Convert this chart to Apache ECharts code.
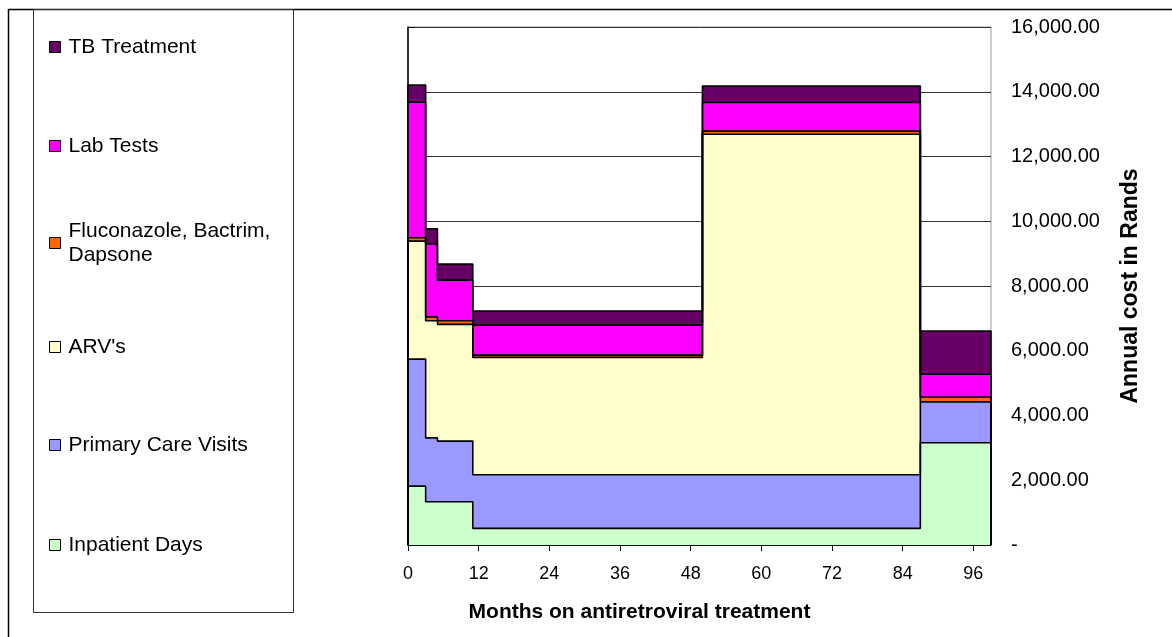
<!DOCTYPE html>
<html>
<head>
<meta charset="utf-8">
<script src="https://cdn.jsdelivr.net/npm/echarts@6/dist/echarts.min.js"></script>
<style>
  html, body { margin: 0; padding: 0; background: #fff; }
  #chart { width: 1172px; height: 637px; }
</style>
</head>
<body>
<div id="chart"></div>
<script>
// Month at which each cost period starts, and the month the last period ends
const periodStarts = [0, 3, 5, 11, 50, 87];
const periodEnd = 99;
const xTicks = [0, 12, 24, 36, 48, 60, 72, 84, 96];

// Annual cost of each component (Rands) in each period
const inpatientDays = [1820, 1335, 1335, 515, 515, 3160];
const primaryCare   = [3920, 1975, 1875, 1655, 1655, 1265];
const arvs          = [3645, 3615, 3605, 3625, 10515, 0];
const prophylaxis   = [105, 120, 110, 70, 100, 145];
const labTests      = [4185, 2250, 1255, 925, 885, 705];
const tbTreatment   = [535, 470, 495, 440, 505, 1335];

const FONT = '"Liberation Sans", Arial, sans-serif';

// Stack, bottom layer first
const layers = [
  { name: 'Inpatient Days', values: inpatientDays, color: '#CCFFCC' },
  { name: 'Primary Care Visits', values: primaryCare, color: '#9999FF' },
  { name: "ARV's", values: arvs, color: '#FFFFCC' },
  { name: 'Fluconazole, Bactrim, Dapsone', values: prophylaxis, color: '#FF6600' },
  { name: 'Lab Tests', values: labTests, color: '#FF00FF' },
  { name: 'TB Treatment', values: tbTreatment, color: '#660066' }
];

// Cumulative totals give the upper edge of each band
let running = periodStarts.map(() => 0);
layers.forEach(l => {
  running = running.map((r, i) => r + l.values[i]);
  l.top = running.slice();
});

function stepPoints(top) {
  const pts = [[periodStarts[0], 0]];
  periodStarts.forEach((m, i) => pts.push([m, top[i]]));
  pts.push([periodEnd, top[top.length - 1]]);
  pts.push([periodEnd, 0]);
  return pts;
}

// Upper bands are painted first; each lower band covers the part beneath it
const series = layers.slice().reverse().map(l => ({
  name: l.name,
  type: 'line',
  step: 'end',
  symbol: 'none',
  showSymbol: false,
  silent: true,
  data: stepPoints(l.top),
  itemStyle: { color: l.color },
  lineStyle: { color: '#000', width: 1.6 },
  areaStyle: { color: l.color, opacity: 1 },
  emphasis: { disabled: true }
}));

// Legend entries, top to bottom, with the vertical centre of each row
const legendRows = [
  { name: 'TB Treatment', y: 47 },
  { name: 'Lab Tests', y: 146 },
  { name: 'Fluconazole, Bactrim, Dapsone', y: 243, wrap: true },
  { name: "ARV's", y: 347 },
  { name: 'Primary Care Visits', y: 445 },
  { name: 'Inpatient Days', y: 545 }
];
const LEGEND_LINE = 24;
const legends = legendRows.map(r => {
  const layer = layers.find(l => l.name === r.name);
  return {
    show: true,
    orient: 'vertical',
    left: 49,
    top: r.wrap ? r.y - LEGEND_LINE * 1.5 : r.y - LEGEND_LINE / 2,
    padding: 0,
    itemGap: 0,
    itemWidth: 11,
    itemHeight: 11,
    icon: 'rect',
    selectedMode: false,
    data: [r.name],
    formatter: r.wrap ? (n => n.replace(', Dapsone', ',\nDapsone')) : undefined,
    itemStyle: { color: layer.color, borderColor: '#000', borderWidth: 1 },
    textStyle: {
      fontFamily: FONT, fontSize: 21, color: '#000',
      lineHeight: LEGEND_LINE,
      padding: r.wrap ? [LEGEND_LINE, 0, 0, 3] : [0, 0, 0, 3]
    }
  };
});

const chart = echarts.init(document.getElementById('chart'), null, { renderer: 'canvas' });
chart.setOption({
  animation: false,
  backgroundColor: '#fff',
  textStyle: { fontFamily: FONT },
  grid: {
    left: 408, right: 181, top: 27, bottom: 92,
    show: true, borderColor: '#999', borderWidth: 1, backgroundColor: 'transparent'
  },
  legend: legends,
  xAxis: {
    type: 'value',
    min: 0,
    max: periodEnd,
    interval: 12,
    axisLine: { lineStyle: { color: '#000', width: 1.5 } },
    axisTick: { show: true, length: 6, customValues: xTicks, lineStyle: { color: '#000' } },
    axisLabel: { customValues: xTicks, margin: 20, fontSize: 18, color: '#000', fontFamily: FONT },
    splitLine: { show: false },
    name: 'Months on antiretroviral treatment',
    nameLocation: 'middle',
    nameGap: 57,
    nameTextStyle: { fontSize: 21, fontWeight: 'bold', color: '#000', fontFamily: FONT, padding: [0, 120, 0, 0] }
  },
  yAxis: {
    type: 'value',
    position: 'right',
    min: 0,
    max: 16000,
    interval: 2000,
    axisLine: { show: true, lineStyle: { color: '#000', width: 1.5 } },
    axisTick: { show: true, length: 7, lineStyle: { color: '#000' } },
    axisLabel: {
      margin: 20, fontSize: 20, color: '#000', fontFamily: FONT,
      formatter: v => v === 0 ? '-' : v.toLocaleString('en-US', { minimumFractionDigits: 2, maximumFractionDigits: 2 })
    },
    splitLine: { show: true, lineStyle: { color: '#333', width: 1 } },
    name: 'Annual cost in Rands',
    nameLocation: 'middle',
    nameRotate: 90,
    nameGap: 128,
    nameTextStyle: { fontSize: 23, fontWeight: 'bold', color: '#000', fontFamily: FONT }
  },
  graphic: [
    { type: 'line', shape: { x1: 8, y1: 9.5, x2: 1172, y2: 9.5 }, style: { stroke: '#000', lineWidth: 1.5 } },
    { type: 'line', shape: { x1: 8.5, y1: 9, x2: 8.5, y2: 637 }, style: { stroke: '#000', lineWidth: 1.5 } },
    { type: 'rect', shape: { x: 33.5, y: 9.5, width: 260, height: 603 }, style: { fill: 'none', stroke: '#333', lineWidth: 1 } }
  ],
  series: series
});
</script>
</body>
</html>
